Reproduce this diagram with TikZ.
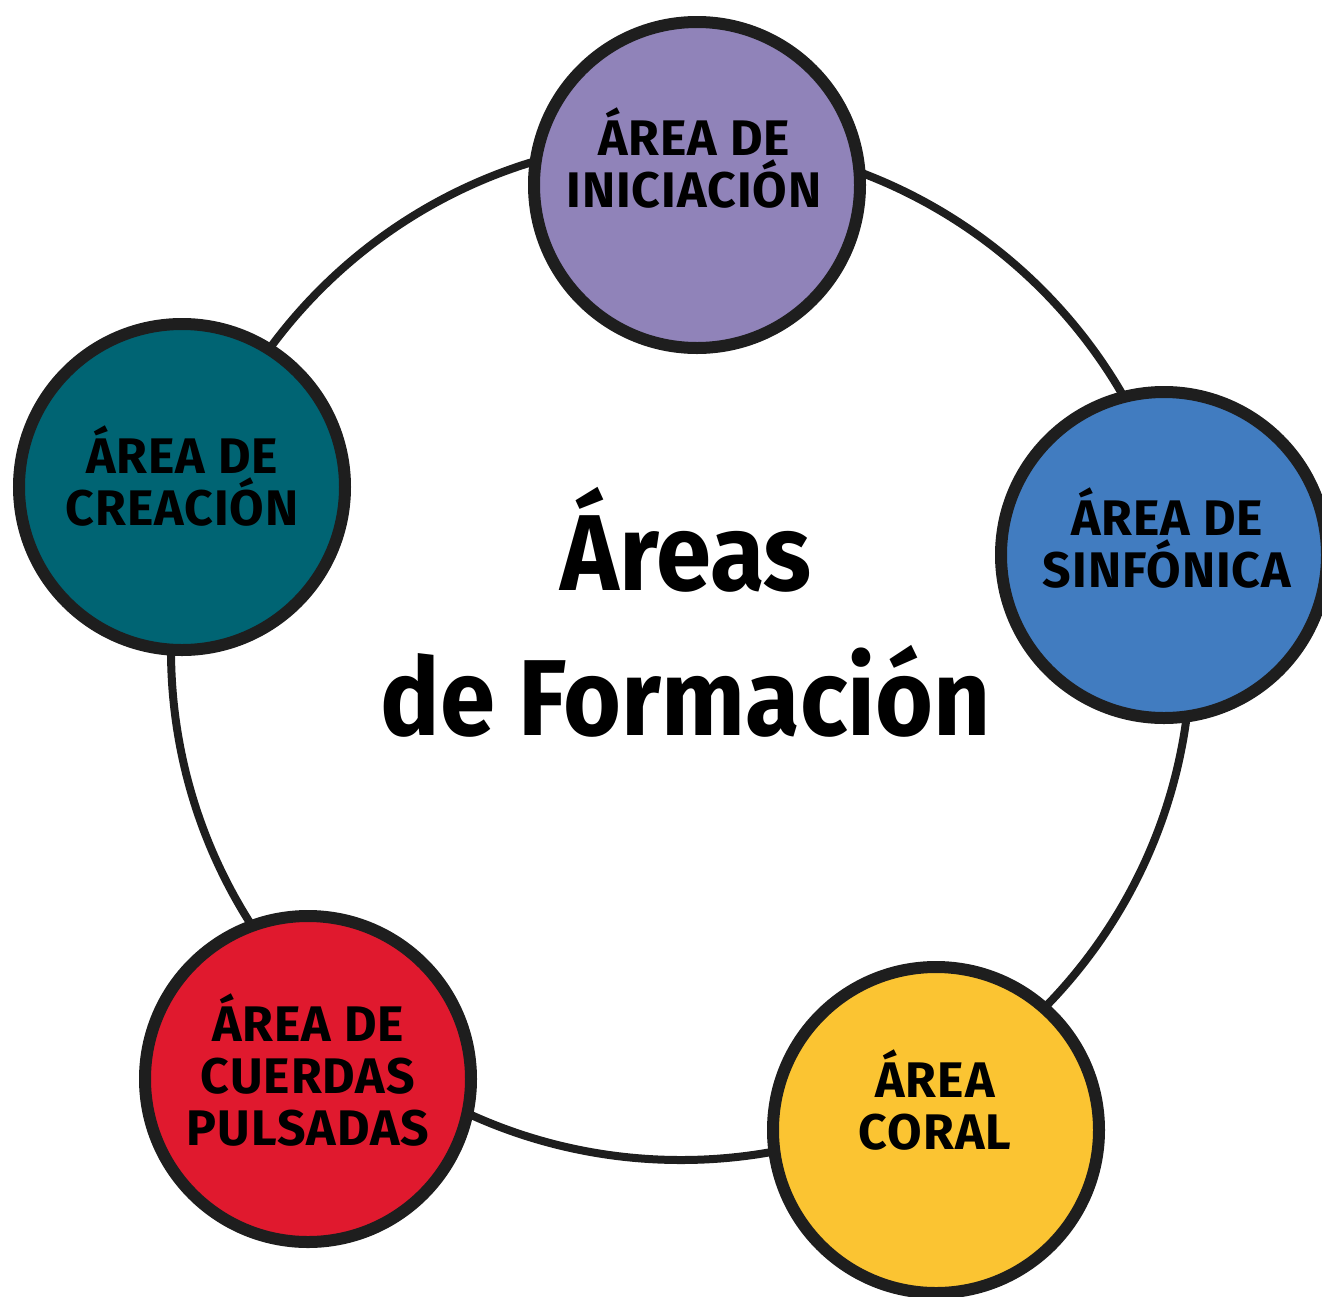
\documentclass[tikz,border=0pt]{standalone}
\usepackage{fontspec}
\setmainfont{Fira Sans}
\newfontfamily\labfont[LetterSpace=2]{Fira Sans}
\newfontfamily\titfont[FakeStretch=0.92]{Fira Sans}
\definecolor{ink}{HTML}{1E1E1E}
\definecolor{cpurple}{HTML}{9083B9}
\definecolor{cteal}{HTML}{006473}
\definecolor{cblue}{HTML}{417CC0}
\definecolor{cred}{HTML}{E0192E}
\definecolor{cyellow}{HTML}{FBC432}
\tikzset{
  area/.style={circle, draw=ink, line width=12pt, minimum size=326pt, inner sep=0pt},
  lab/.style={align=center, text=black, font=\labfont\bfseries\fontsize{50}{52}\selectfont, inner sep=0pt},
  tit/.style={align=center, text=black, font=\titfont\bfseries\fontsize{108}{145}\selectfont, inner sep=0pt},
}
\begin{document}
\begin{tikzpicture}[x=1pt,y=-1pt]
\useasboundingbox (0,0) rectangle (1322,1296);
\node[circle, draw=ink, line width=8pt, minimum size=1020pt, inner sep=0pt] (big) at (681,650) {};
\node[area, fill=cpurple] (ini) at (697,185) {};
\node[area, fill=cteal] (cre) at (182,487) {};
\node[area, fill=cblue] (sin) at (1164,555) {};
\node[area, fill=cred] (cue) at (308,1079) {};
\node[area, fill=cyellow] (cor) at (936,1130) {};
\node[lab] (tini) at (694,158) {ÁREA DE\\INICIACIÓN};
\node[lab] (tcre) at (182,476) {ÁREA DE\\CREACIÓN};
\node[lab] (tsin) at (1167,538) {ÁREA DE\\SINFÓNICA};
\node[lab] (tcue) at (308,1070) {ÁREA DE\\CUERDAS\\PULSADAS};
\node[lab] (tcor) at (935,1100) {ÁREA\\CORAL};
\node[tit] (title) at (686,612) {Áreas\\de Formación};
\end{tikzpicture}
\end{document}
